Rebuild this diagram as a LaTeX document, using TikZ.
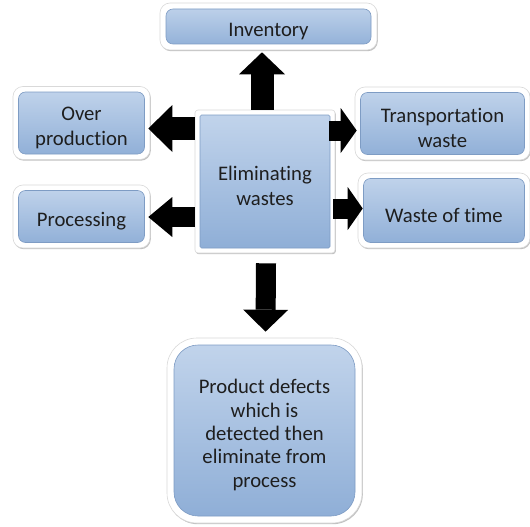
\documentclass[tikz,border=0pt]{standalone}
\usepackage{fontspec}
\setmainfont{Carlito}[Ligatures=NoCommon]
\usetikzlibrary{arrows.meta,shadows,calc}
\definecolor{btop}{HTML}{C3D5EC}
\definecolor{bbot}{HTML}{8DADD6}
\definecolor{bedge}{HTML}{7E9CC4}
\definecolor{txt}{HTML}{1E1E1E}
\newcommand\boxfont{\fontsize{20.7}{24.5}\selectfont}
\newcommand\bigboxfont{\fontsize{20.7}{23.3}\selectfont}
\newcommand\fl{\rule{0pt}{23.5pt}}
\tikzset{
  wbox/.style n args={3}{rectangle, rounded corners=#1, fill=white, draw=black!15, line width=0.6pt,
    drop shadow={shadow xshift=0.8pt, shadow yshift=-1.2pt, opacity=0.4, fill=black!60},
    inner sep=0pt, align=center, text=txt, font=\boxfont,
    path picture={\shade[top color=btop, bottom color=bbot, draw=bedge, line width=0.6pt, rounded corners=#2]
      ([xshift=#3,yshift=#3]path picture bounding box.south west) rectangle
      ([xshift=-#3,yshift=-#3]path picture bounding box.north east);}},
  bigarrow/.style n args={3}{draw=black, line width=#1, line cap=butt,
    -{Triangle[length=#2, width=#3, line width=0pt]}}
}
\begin{document}
\begin{tikzpicture}[x=1pt,y=-1pt]
\fill[white] (0,0) rectangle (530,527);
\useasboundingbox (0,0) rectangle (530,527);

\node[wbox={10pt}{7pt}{6pt}, minimum width=217pt, minimum height=47pt] (inv) at (268.5,26.5) {\fl Inventory};
\node[wbox={10pt}{7pt}{5.5pt}, minimum width=137pt, minimum height=73pt] (over) at (81.5,123) {\fl Over\\production};
\node[wbox={10pt}{7pt}{5.5pt}, minimum width=137pt, minimum height=63pt] (proc) at (81.5,216.5) {\fl Processing};
\node[wbox={10pt}{7pt}{5.5pt}, minimum width=175pt, minimum height=73pt] (trans) at (442.5,123.5) {\fl Transportation\\waste};
\node[wbox={10pt}{7pt}{5.5pt}, minimum width=172pt, minimum height=75pt] (waste) at (444,210.5) {\fl Waste of time};
\node[wbox={3pt}{1.5pt}{5pt}, minimum width=140pt, minimum height=143pt] (cen) at (265,181.5) {\fl Eliminating\\wastes};
\node[wbox={30pt}{24pt}{7pt}, minimum width=195pt, minimum height=185pt, font=\bigboxfont] (bot) at (264.5,430.5)
  {\fl Product defects\\which is\\detected then\\eliminate from\\process};

\draw[bigarrow={23pt}{22pt}{46pt}] ([xshift=-3pt]cen.north) -- ($(inv.south)+(-6.5,2)$);
\draw[bigarrow={23pt}{24pt}{47pt}] ($(cen.west |- over.east)+(0,5.5)$) -- ($(over.east)+(-2,5.5)$);
\draw[bigarrow={20pt}{24pt}{40pt}] ($(cen.west |- proc.east)+(0,0.5)$) -- ($(proc.east)+(-2,0.5)$);
\draw[bigarrow={20pt}{16pt}{45pt}] ($(cen.east |- trans.west)+(-6,7)$) -- ($(trans.west)+(2,7)$);
\draw[bigarrow={20pt}{15pt}{43pt}] ($(cen.east |- waste.west)+(-2,-2)$) -- ($(waste.west)+(5,-2)$);
\draw[bigarrow={20pt}{22pt}{45pt}] ($(cen.south)+(1,10)$) -- ($(bot.north)+(1,-6)$);
\end{tikzpicture}
\end{document}
